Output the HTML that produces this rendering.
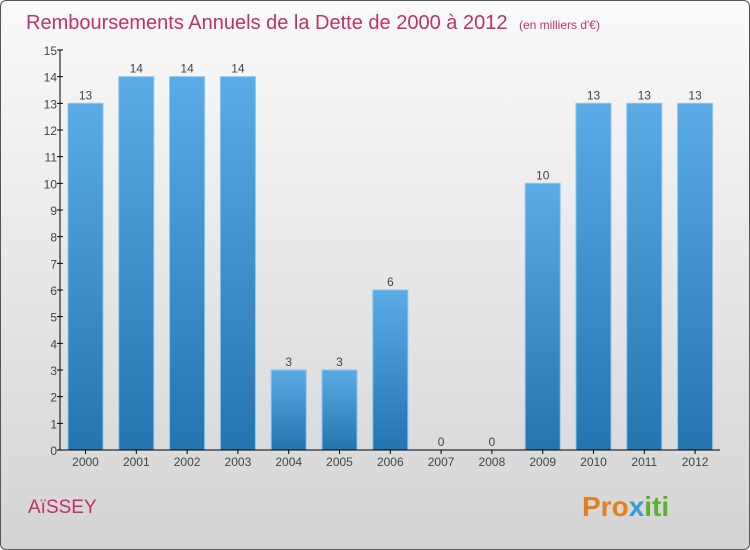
<!DOCTYPE html>
<html><head><meta charset="utf-8"><style>
body{margin:0;width:750px;height:550px;overflow:hidden;font-family:"Liberation Sans","DejaVu Sans",sans-serif}
#frame{position:absolute;left:0;top:0;width:748px;height:548px;border:1px solid #555;border-radius:6px;background:linear-gradient(#fafafa,#d4d4d4)}
</style></head><body>
<div id="frame"></div>
<svg id="chart" width="750" height="550" style="position:absolute;left:0;top:0">
<defs><linearGradient id="bg" x1="0" y1="0" x2="0" y2="1"><stop offset="0" stop-color="#5aabe6"/><stop offset="1" stop-color="#2474b0"/></linearGradient></defs>
<text x="26" y="29" font-size="20" fill="#c0306a">Remboursements Annuels de la Dette de 2000 à 2012 <tspan font-size="12" dx="6">(en milliers d'€)</tspan></text>
<text x="28" y="513" font-size="19" fill="#c0306a">AïSSEY</text>
<text x="582" y="516" font-size="28" font-weight="bold" fill="#e08020">Pro<tspan fill="#3a9ad8">x</tspan><tspan fill="#5ab030">iti</tspan></text>
<g id="g"></g>
</svg>
<script>
const categories=["2000","2001","2002","2003","2004","2005","2006","2007","2008","2009","2010","2011","2012"];
const values=[13,14,14,14,3,3,6,0,0,10,13,13,13];
const yTicks=[0,1,2,3,4,5,6,7,8,9,10,11,12,13,14,15];
const g=document.getElementById('g');const NS="http://www.w3.org/2000/svg";
const y=v=>450-v*(400/15);const x=i=>85.5+i*50.8;
function mk(t,a){const e=document.createElementNS(NS,t);for(const k in a)e.setAttribute(k,a[k]);g.appendChild(e);return e;}
categories.forEach((c,i)=>{
 const r=mk('rect',{x:x(i)-17.5,y:y(values[i]),width:35,height:450-y(values[i]),fill:'url(#bg)',stroke:'#8cc4ee','stroke-width':1});
 
 
 const t=mk('text',{x:x(i),y:y(values[i])-4,'font-size':12,fill:'#444','text-anchor':'middle'});t.textContent=values[i];
 
 
 const l=mk('text',{x:x(i),y:466,'font-size':12,fill:'#444','text-anchor':'middle'});l.textContent=c;
 
 
 mk('line',{x1:x(i),x2:x(i),y1:450,y2:454,stroke:'#000'});
});
yTicks.forEach(v=>{
 mk('line',{x1:57,x2:63,y1:y(v),y2:y(v),stroke:'#000'});
 const t=mk('text',{x:57,y:y(v)+5,'font-size':12,fill:'#444','text-anchor':'end'});t.textContent=v;
 
 
});
const ya=mk('line',{x1:60,x2:60,y1:50,y2:450,stroke:'#000'});


const xa=mk('line',{x1:57,x2:720,y1:450,y2:450,stroke:'#000'});


</script>
</body></html>
